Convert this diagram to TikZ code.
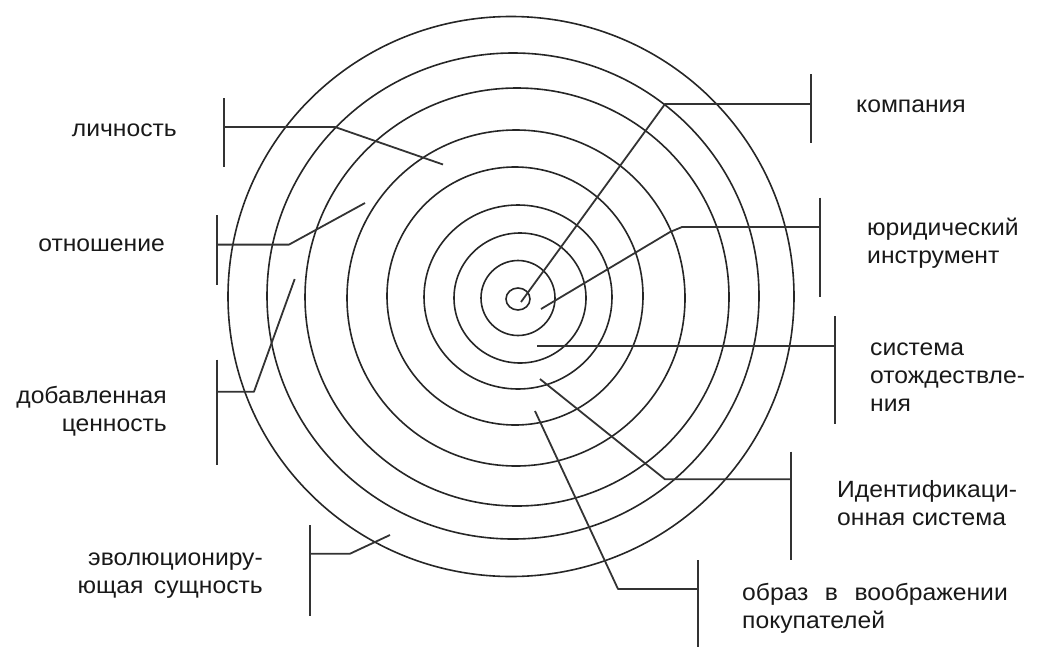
\documentclass[tikz,border=0pt]{standalone}
\usepackage{fontspec}
\setmainfont{Liberation Sans}[FakeStretch=1.05]
\begin{document}
\begin{tikzpicture}[x=1pt,y=-1pt,
  ring/.style={draw=black!85, line width=1.6pt},
  leader/.style={draw=black!80, line width=1.8pt, line join=round},
  lbl/.style={inner sep=0pt, font=\fontsize{23.5}{28}\selectfont, text=black!90}]
\useasboundingbox (0,0) rectangle (1040,648);
% concentric rings
\draw[ring] (511,296.5) ellipse[x radius=283pt, y radius=280pt];
\draw[ring] (513,296) ellipse[x radius=246pt, y radius=243pt];
\draw[ring] (517,297) ellipse[x radius=212pt, y radius=209pt];
\draw[ring] (516,298) ellipse[x radius=169pt, y radius=168pt];
\draw[ring] (515,296) ellipse[x radius=128pt, y radius=129pt];
\draw[ring] (518,297) ellipse[x radius=94pt, y radius=92pt];
\draw[ring] (520,298) ellipse[x radius=66pt, y radius=65pt];
\draw[ring] (518,298) ellipse[x radius=37pt, y radius=37.5pt];
\draw[ring] (518,299) ellipse[x radius=12pt, y radius=11pt];
% labels
\node[lbl, anchor=north east, align=right] (lich) at (177,117) {\strut личность};
\node[lbl, anchor=north east, align=right] (otn) at (165,231.4) {\strut отношение};
\node[lbl, anchor=north east, align=right] (dob) at (167,383.4) {\strut добавленная\\\strut ценность};
\node[lbl, anchor=north east, align=right] (evo) at (263,545.4) {\strut эволюциониру-\\\strut ющая\hspace{0.45em}сущность};
\node[lbl, anchor=north west, align=left] (komp) at (856,92.4) {\strut компания};
\node[lbl, anchor=north west, align=left] (jur) at (867,215.4) {\strut юридический\\\strut инструмент};
\node[lbl, anchor=north west, align=left] (sys) at (870,335.4) {\strut система\\\strut отождествле-\\\strut ния};
\node[lbl, anchor=north west, align=left] (ident) at (837,477.4) {\strut Идентификаци-\\\strut онная система};
\node[lbl, anchor=north west, align=left] (obr) at (742,580.4) {\strut образ\hspace{0.7em}в\hspace{0.7em}воображении\\\strut покупателей};
% leader points
\coordinate (a1) at (443,164.5); \coordinate (k1) at (335,127); \coordinate (m1) at (224,127);
\coordinate (t1a) at (224,98); \coordinate (t1b) at (224,167);
\coordinate (a2) at (365,203); \coordinate (k2) at (289,244.6); \coordinate (m2) at (217,244.6);
\coordinate (t2a) at (217,215); \coordinate (t2b) at (217,285);
\coordinate (a3) at (294.7,279); \coordinate (k3) at (254,391.7); \coordinate (m3) at (217,391.7);
\coordinate (t3a) at (217,359.5); \coordinate (t3b) at (217,465);
\coordinate (a4) at (390,535); \coordinate (k4) at (350,553.7); \coordinate (m4) at (310,553.7);
\coordinate (t4a) at (310,525); \coordinate (t4b) at (310,615.7);
\coordinate (b1) at (521,302); \coordinate (q1) at (665,104); \coordinate (n1) at (811,104);
\coordinate (s1a) at (811,74); \coordinate (s1b) at (811,142.6);
\coordinate (b2) at (541,309); \coordinate (q2) at (670,232); \coordinate (r2) at (682,227); \coordinate (n2) at (820,227);
\coordinate (s2a) at (820,197.5); \coordinate (s2b) at (820,296.7);
\coordinate (b3) at (537,346); \coordinate (n3) at (835,346);
\coordinate (s3a) at (835,316); \coordinate (s3b) at (835,423.5);
\coordinate (b4) at (540,379); \coordinate (q4) at (665,479.3); \coordinate (n4) at (791,479.3);
\coordinate (s4a) at (791,451.6); \coordinate (s4b) at (791,560);
\coordinate (b5) at (535,411); \coordinate (q5) at (618,589); \coordinate (n5) at (698,589);
\coordinate (s5a) at (698,560); \coordinate (s5b) at (698,647);
% leaders
\draw[leader] (a1) -- (k1) -- (m1); \draw[leader] (t1a) -- (t1b);
\draw[leader] (a2) -- (k2) -- (m2); \draw[leader] (t2a) -- (t2b);
\draw[leader] (a3) -- (k3) -- (m3); \draw[leader] (t3a) -- (t3b);
\draw[leader] (a4) -- (k4) -- (m4); \draw[leader] (t4a) -- (t4b);
\draw[leader] (b1) -- (q1) -- (n1); \draw[leader] (s1a) -- (s1b);
\draw[leader] (b2) -- (q2) -- (r2) -- (n2); \draw[leader] (s2a) -- (s2b);
\draw[leader] (b3) -- (n3); \draw[leader] (s3a) -- (s3b);
\draw[leader] (b4) -- (q4) -- (n4); \draw[leader] (s4a) -- (s4b);
\draw[leader] (b5) -- (q5) -- (n5); \draw[leader] (s5a) -- (s5b);
\end{tikzpicture}
\end{document}
